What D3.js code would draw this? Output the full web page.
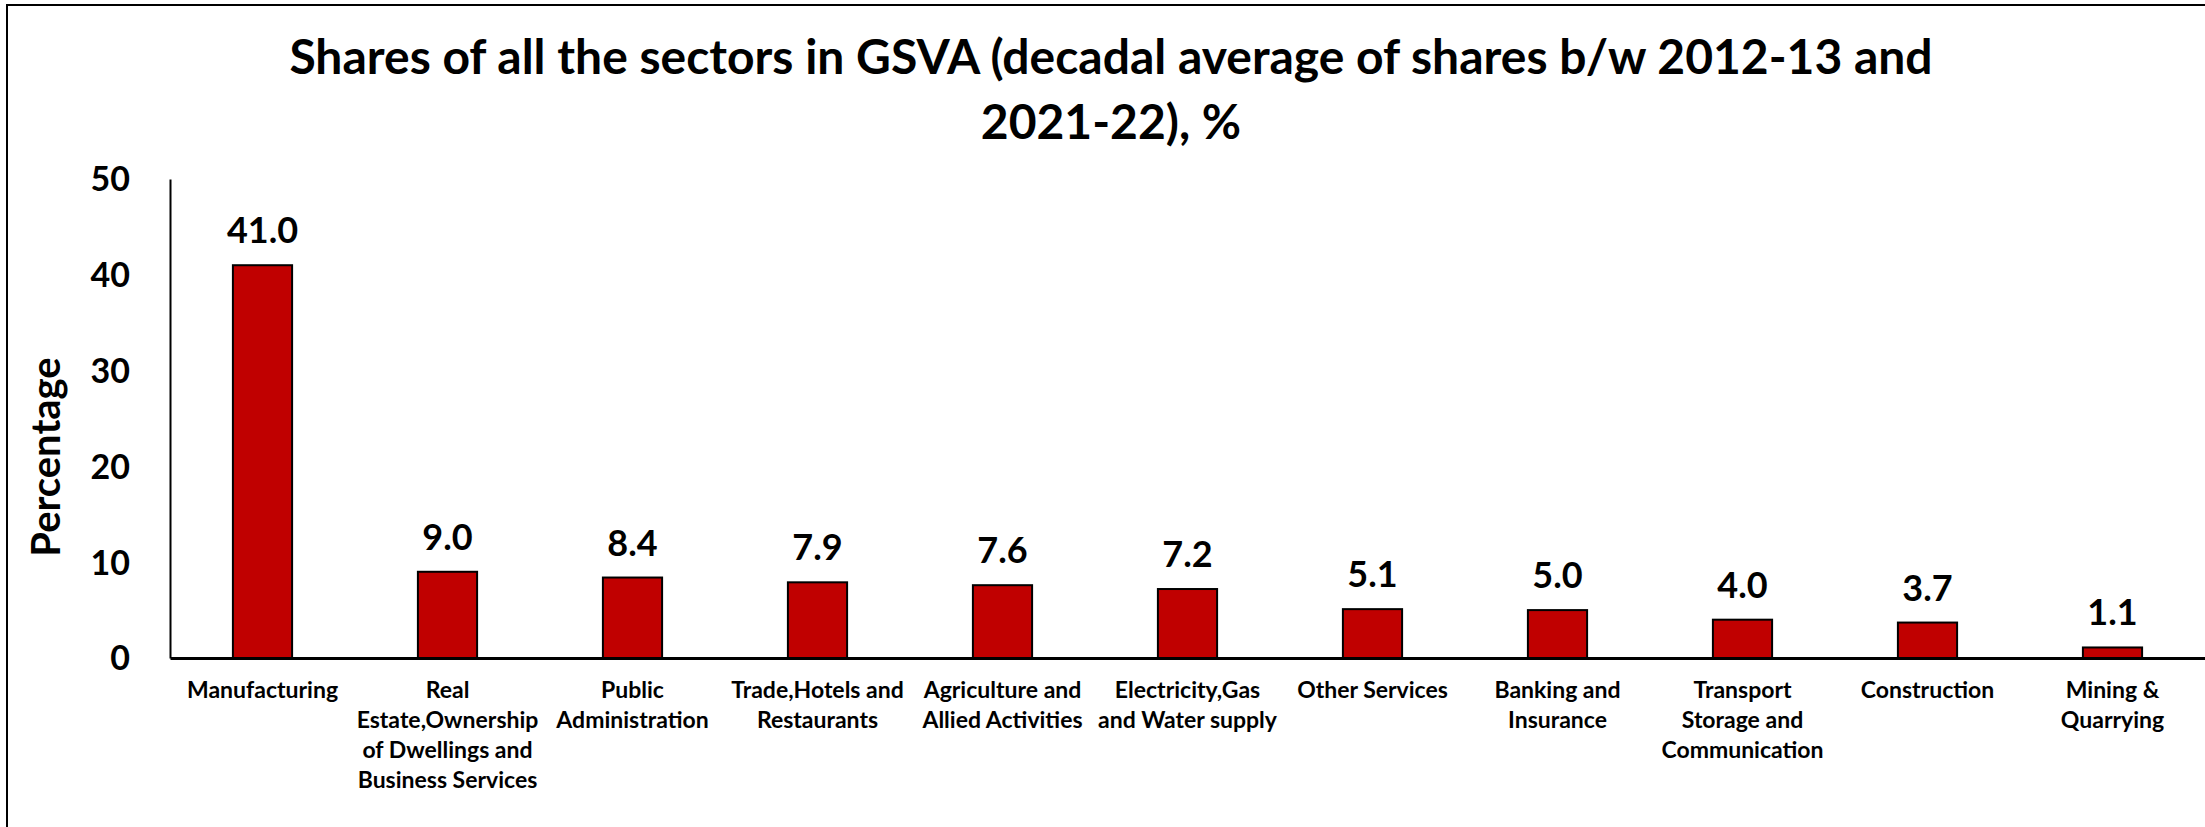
<!DOCTYPE html>
<html>
<head>
<meta charset="utf-8">
<script src="https://cdn.jsdelivr.net/npm/d3@7"></script>
<style>
  body { margin: 0; background: #fff; }
  text { font-family: Lato, "Open Sans", sans-serif; font-weight: bold; fill: #000; }
</style>
</head>
<body>
<div id="chart"></div>
<script>
// data
const sectors = ["Manufacturing", "Real Estate,Ownership of Dwellings and Business Services",
  "Public Administration", "Trade,Hotels and Restaurants", "Agriculture and Allied Activities",
  "Electricity,Gas and Water supply", "Other Services", "Banking and Insurance",
  "Transport Storage and Communication", "Construction", "Mining & Quarrying"];
const sectorLines = [
  ["Manufacturing"],
  ["Real", "Estate,Ownership", "of Dwellings and", "Business Services"],
  ["Public", "Administration"],
  ["Trade,Hotels and", "Restaurants"],
  ["Agriculture and", "Allied Activities"],
  ["Electricity,Gas", "and Water supply"],
  ["Other Services"],
  ["Banking and", "Insurance"],
  ["Transport", "Storage and", "Communication"],
  ["Construction"],
  ["Mining &", "Quarrying"]
];
const shares = [41.0, 9.0, 8.4, 7.9, 7.6, 7.2, 5.1, 5.0, 4.0, 3.7, 1.1];
const yTicks = [0, 10, 20, 30, 40, 50];
const titleLines = ["Shares of all the sectors in GSVA (decadal average of shares b/w 2012-13 and", "2021-22), %"];

const W = 2205, H = 827;
const mLeft = 170, mRight = 2205, mTop = 179, mBottom = 658;

var svg = d3.select("#chart").append("svg")
  .attr("width", W)
  .attr("height", H);

svg.append("rect")
  .attr("x", 7).attr("y", 5)
  .attr("width", W + 20).attr("height", H + 20)
  .attr("fill", "#fff")
  .attr("stroke", "#000")
  .attr("stroke-width", 2);

var x = d3.scaleBand().domain(sectors).range([mLeft, mRight]).paddingInner(0.68).paddingOuter(0.34);
var y = d3.scaleLinear().domain([0, 50]).range([mBottom, mTop]);

// title
svg.append("g").selectAll("text")
  .data(titleLines)
  .enter().append("text")
  .attr("x", 1111)
  .attr("y", (d, i) => 74 + i * 65)
  .attr("text-anchor", "middle")
  .style("font-size", "48px")
  .text(d => d);

// y axis
var yAxis = svg.append("g")
  .attr("transform", "translate(" + mLeft + ",0)")
  .call(d3.axisLeft(y).tickValues(yTicks).tickSize(0).tickPadding(40));
yAxis.select(".domain").attr("stroke", "#000").attr("stroke-width", 2);
yAxis.selectAll("text").style("font-size", "34px").style("font-family", "Lato").style("font-weight", "bold").attr("dy", "0.35em");

svg.append("text")
  .attr("transform", "translate(60," + 457 + ") rotate(-90)")
  .attr("text-anchor", "middle")
  .style("font-size", "40px")
  .text("Percentage");

// bars
svg.append("g").selectAll("rect")
  .data(shares)
  .enter().append("rect")
  .attr("x", (d, i) => x(sectors[i]))
  .attr("y", d => y(d))
  .attr("width", x.bandwidth())
  .attr("height", d => y(0) - y(d))
  .attr("fill", "#C00000")
  .attr("stroke", "#000")
  .attr("stroke-width", 2);

// value labels
svg.append("g").selectAll("text")
  .data(shares)
  .enter().append("text")
  .attr("x", (d, i) => x(sectors[i]) + x.bandwidth() / 2)
  .attr("y", d => y(d) - 22)
  .attr("text-anchor", "middle")
  .style("font-size", "36px")
  .text(d => d.toFixed(1));

// x axis
var xAxis = svg.append("g")
  .attr("transform", "translate(0," + mBottom + ")")
  .call(d3.axisBottom(x).tickSize(0).tickFormat(""));
xAxis.select(".domain").attr("stroke", "#000").attr("stroke-width", 3);

xAxis.selectAll(".tick").each(function (d, i) {
  var t = d3.select(this).append("text")
    .attr("text-anchor", "middle")
    .style("font-size", "23px")
    .style("font-family", "Lato")
    .style("font-weight", "bold")
    .attr("fill", "#000");
  sectorLines[i].forEach((line, j) => {
    t.append("tspan").attr("x", 0).attr("y", 40 + j * 30).text(line);
  });
});
</script>
</body>
</html>
